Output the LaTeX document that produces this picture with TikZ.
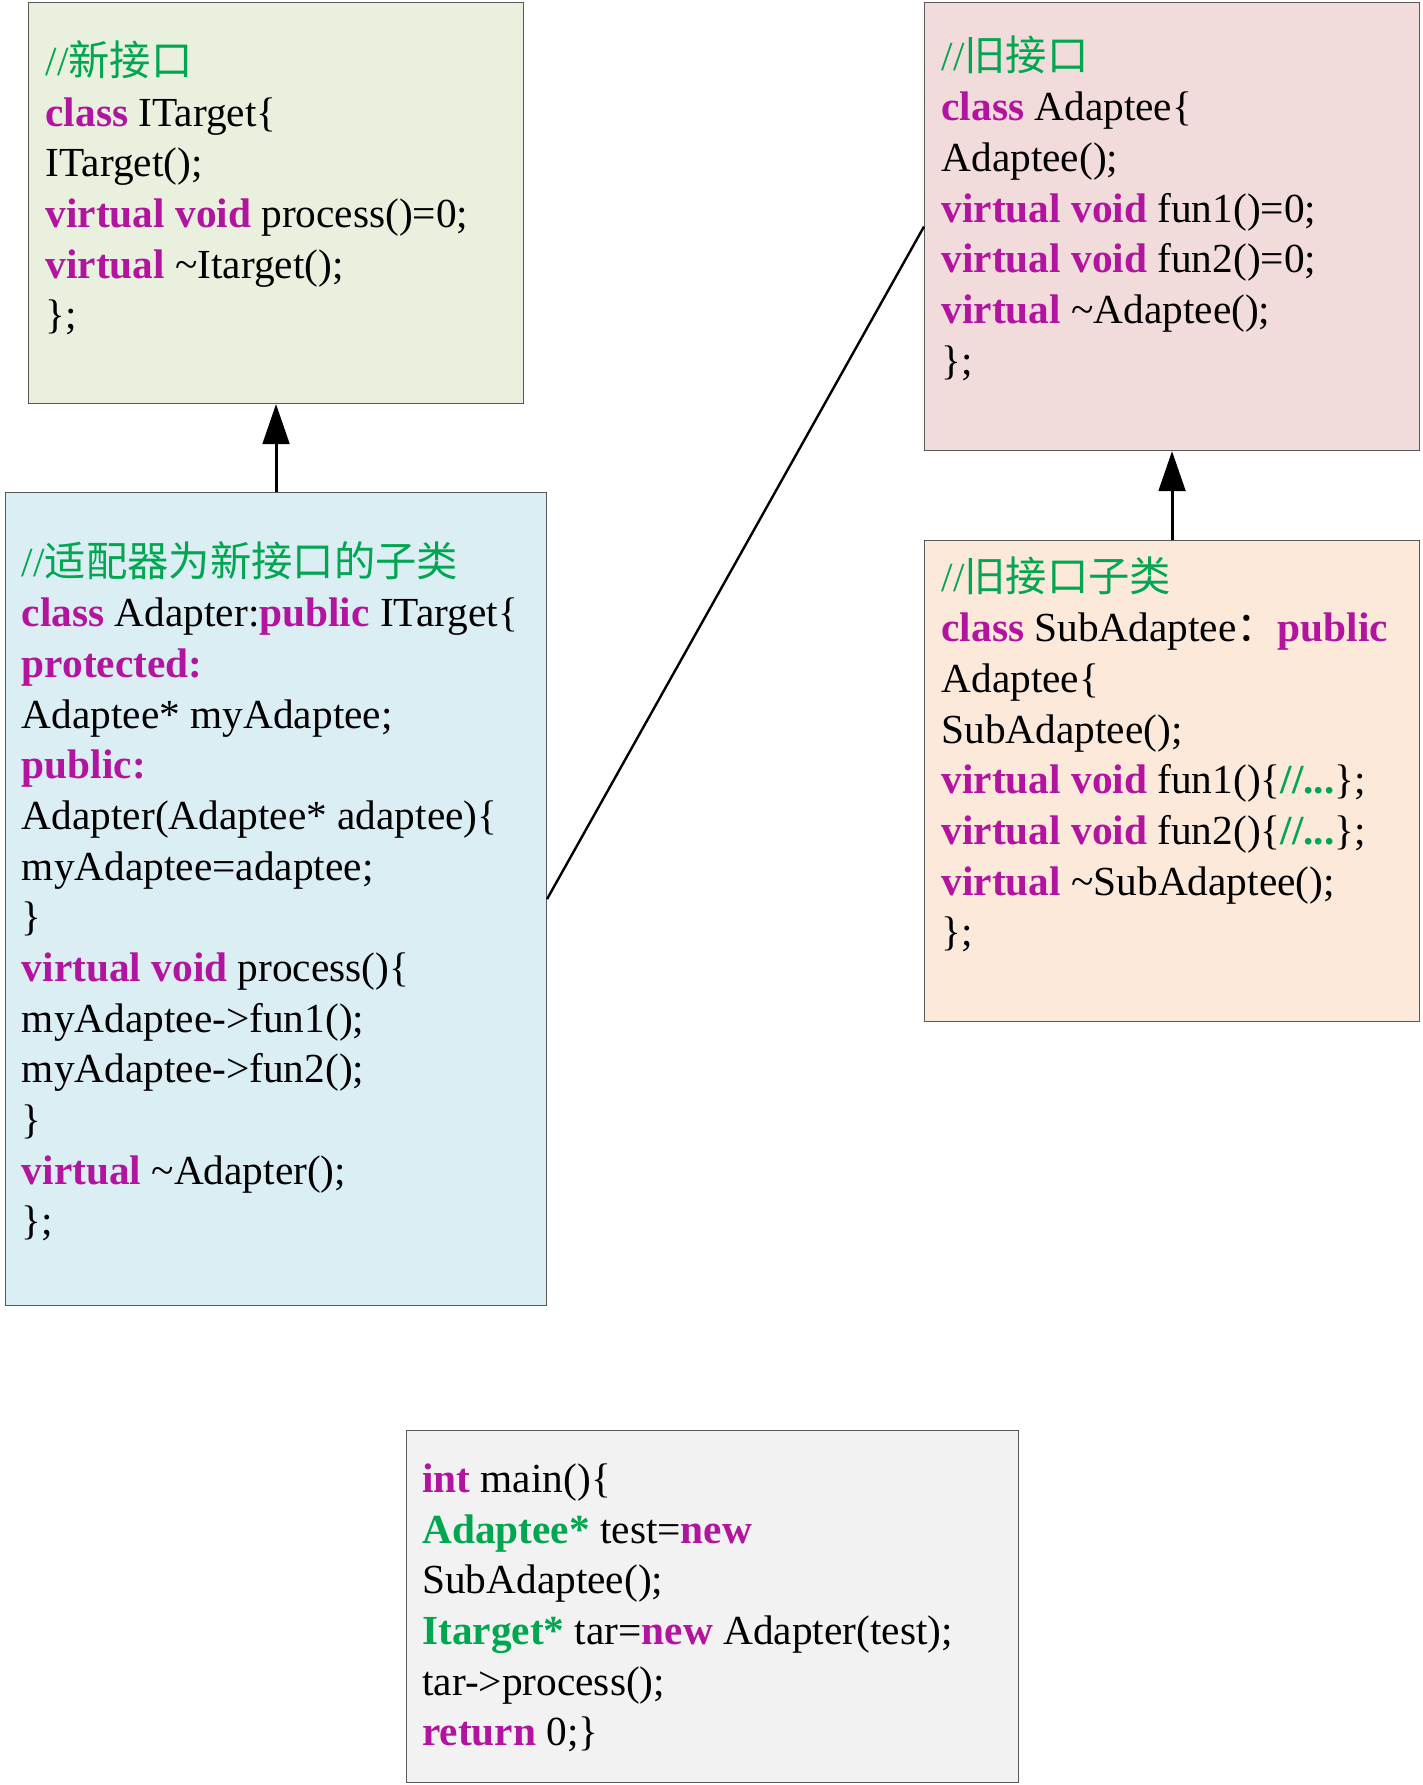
\documentclass[tikz,border=0pt]{standalone}
\usepackage{fontspec}
\setmainfont{Liberation Serif}
\newfontfamily\cjk{Noto Sans CJK SC}
\usepackage{tikz}
\usetikzlibrary{arrows.meta, positioning}

\definecolor{kwmag}{HTML}{B2149F}
\definecolor{cmtgreen}{HTML}{00A650}
\definecolor{fillnew}{HTML}{EAF0DE}
\definecolor{fillold}{HTML}{F2DCDB}
\definecolor{filladapter}{HTML}{DBEEF4}
\definecolor{fillsub}{HTML}{FDE9D9}
\definecolor{fillmain}{HTML}{F2F2F2}

\newcommand{\kwd}[1]{\textbf{\color{kwmag}#1}}
\newcommand{\cmnt}[1]{{\color{cmtgreen}#1}}
\newcommand{\tyname}[1]{\textbf{\color{cmtgreen}#1}}

\begin{document}
\begin{tikzpicture}[
        x=0.75pt, y=-0.75pt,
        box/.style={
            draw=black!65,
            line width=0.8pt,
            anchor=north west,
            inner sep=0pt
        },
        code/.style={
            inner sep=0pt,
            align=left,
            font=\fontsize{31pt}{38pt}\selectfont,
            execute at begin node={\rule{0pt}{30pt}}
        },
        arrow/.style={-{Triangle[length=30pt, width=20pt]}, line width=2.2pt},
        link/.style={line width=1.8pt}
    ]
    \useasboundingbox (0,0) rectangle (1422,1785);

    % new interface
    \node[box, fill=fillnew, minimum width=371.25pt, minimum height=300.75pt] (itarget) at (28,2) {};
    \node[code, below right=28.75pt and 13pt of itarget.north west] (itarget-code) {%
        \cmnt{//{\cjk 新接口}}\\
        \kwd{class} ITarget\{\\
        ITarget();\\
        \kwd{virtual void} process()=0;\\
        \kwd{virtual} \textasciitilde Itarget();\\
        \};};

    % old interface
    \node[box, fill=fillold, minimum width=371.25pt, minimum height=336pt] (adaptee) at (924,2) {};
    \node[code, below right=25pt and 13pt of adaptee.north west] (adaptee-code) {%
        \cmnt{//{\cjk 旧接口}}\\
        \kwd{class} Adaptee\{\\
        Adaptee();\\
        \kwd{virtual void} fun1()=0;\\
        \kwd{virtual void} fun2()=0;\\
        \kwd{virtual} \textasciitilde Adaptee();\\
        \};};

    % adapter
    \node[box, fill=filladapter, minimum width=405.75pt, minimum height=609.75pt] (adapter) at (5,492) {};
    \node[code, below right=36.75pt and 12.5pt of adapter.north west] (adapter-code) {%
        \cmnt{//{\cjk 适配器为新接口的子类}}\\
        \kwd{class} Adapter:\kwd{public} ITarget\{\\
        \kwd{protected:}\\
        Adaptee* myAdaptee;\\
        \kwd{public:}\\
        Adapter(Adaptee* adaptee)\{\\
        myAdaptee=adaptee;\\
        \}\\
        \kwd{virtual void} process()\{\\
        myAdaptee->fun1();\\
        myAdaptee->fun2();\\
        \}\\
        \kwd{virtual} \textasciitilde Adapter();\\
        \};};

    % old interface subclass
    \node[box, fill=fillsub, minimum width=371.25pt, minimum height=360.75pt] (subadaptee) at (924,540) {};
    \node[code, below right=12.25pt and 13pt of subadaptee.north west] (subadaptee-code) {%
        \cmnt{//{\cjk 旧接口子类}}\\
        \kwd{class} SubAdaptee{\cjk ：}\kwd{public}\\
        Adaptee\{\\
        SubAdaptee();\\
        \kwd{virtual void} fun1()\{\tyname{//...}\};\\
        \kwd{virtual void} fun2()\{\tyname{//...}\};\\
        \kwd{virtual} \textasciitilde SubAdaptee();\\
        \};};

    % main
    \node[box, fill=fillmain, minimum width=459pt, minimum height=264pt] (mainbox) at (406,1430) {};
    \node[code, below right=25.25pt and 12pt of mainbox.north west] (mainbox-code) {%
        \kwd{int} main()\{\\
        \tyname{Adaptee*} test=\kwd{new}\\
        SubAdaptee();\\
        \tyname{Itarget*} tar=\kwd{new} Adapter(test);\\
        tar->process();\\
        \kwd{return} 0;\}};

    % inheritance
    \draw[arrow] (adapter) -- (itarget);
    \draw[arrow] (subadaptee) -- (adaptee);

    % adapter holds adaptee
    \draw[link] (adapter.east) -- (adaptee.west);

\end{tikzpicture}
\end{document}
